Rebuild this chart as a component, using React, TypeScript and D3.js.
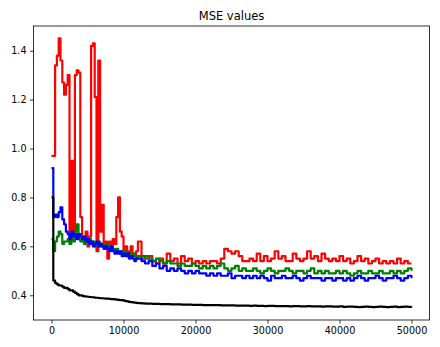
import React, { useEffect, useRef } from 'react';
import * as d3 from 'd3';

// iterations: every 250 steps early on, every 500 afterwards
const iterations: number[] = d3.range(0, 12000, 250).concat(d3.range(12000, 50001, 500));

const redValues = [
  0.97, 0.97, 1.34, 1.38, 1.45, 1.36, 1.27, 1.22, 1.26, 1.30,
  0.62, 0.95, 0.66, 1.30, 1.32, 1.31, 0.72, 0.64, 0.62, 0.66,
  0.60, 0.64, 1.42, 1.43, 1.21, 0.58, 1.36, 0.66, 0.77, 0.60,
  0.62, 0.55, 0.62, 0.60, 0.63, 0.61, 0.72, 0.80, 0.66, 0.64,
  0.58, 0.60, 0.58, 0.57, 0.60, 0.57, 0.56, 0.58,
  0.62, 0.56, 0.55, 0.56, 0.54, 0.53, 0.55, 0.53, 0.57, 0.54,
  0.55, 0.53, 0.56, 0.54, 0.55, 0.53, 0.54, 0.53, 0.54, 0.53,
  0.54, 0.54, 0.53, 0.55, 0.59, 0.58, 0.57, 0.58, 0.56, 0.54,
  0.54, 0.55, 0.54, 0.57, 0.54, 0.56, 0.54, 0.55, 0.58, 0.55,
  0.56, 0.54, 0.54, 0.57, 0.55, 0.54, 0.55, 0.58, 0.55, 0.56,
  0.54, 0.57, 0.55, 0.54, 0.55, 0.54, 0.56, 0.54, 0.55, 0.53,
  0.54, 0.56, 0.54, 0.55, 0.53, 0.54, 0.55, 0.53, 0.54, 0.53,
  0.54, 0.53, 0.55, 0.53, 0.54, 0.53, 0.53,
];

const greenValues = [
  0.63, 0.58, 0.62, 0.64, 0.66, 0.65, 0.61, 0.62, 0.62, 0.63,
  0.61, 0.63, 0.62, 0.66, 0.69, 0.63, 0.62, 0.63, 0.61, 0.62,
  0.62, 0.63, 0.61, 0.62, 0.60, 0.61, 0.62, 0.60, 0.61, 0.59,
  0.60, 0.61, 0.59, 0.60, 0.59, 0.58, 0.59, 0.58, 0.57, 0.58,
  0.57, 0.58, 0.56, 0.57, 0.56, 0.57, 0.56, 0.55,
  0.56, 0.55, 0.56, 0.55, 0.54, 0.55, 0.54, 0.53, 0.54, 0.53,
  0.53, 0.52, 0.53, 0.52, 0.52, 0.53, 0.52, 0.51, 0.52, 0.51,
  0.52, 0.51, 0.52, 0.53, 0.51, 0.50, 0.51, 0.52, 0.50, 0.51,
  0.50, 0.50, 0.51, 0.50, 0.49, 0.50, 0.51, 0.50, 0.49, 0.50,
  0.50, 0.51, 0.50, 0.49, 0.50, 0.50, 0.49, 0.50, 0.51, 0.49,
  0.50, 0.49, 0.50, 0.49, 0.49, 0.50, 0.49, 0.50, 0.49, 0.48,
  0.49, 0.50, 0.49, 0.49, 0.50, 0.49, 0.49, 0.50, 0.49, 0.49,
  0.50, 0.49, 0.50, 0.49, 0.50, 0.51, 0.50,
];

const blueValues = [
  0.92, 0.72, 0.73, 0.72, 0.74, 0.76, 0.71, 0.69, 0.66, 0.65,
  0.63, 0.66, 0.64, 0.65, 0.63, 0.65, 0.64, 0.63, 0.64, 0.62,
  0.63, 0.61, 0.62, 0.60, 0.61, 0.62, 0.60, 0.61, 0.60, 0.59,
  0.60, 0.59, 0.58, 0.60, 0.58, 0.57, 0.58, 0.57, 0.58, 0.56,
  0.57, 0.56, 0.57, 0.55, 0.56, 0.55, 0.54, 0.55,
  0.55, 0.54, 0.53, 0.54, 0.52, 0.53, 0.51, 0.52, 0.50, 0.51,
  0.50, 0.51, 0.50, 0.49, 0.50, 0.49, 0.50, 0.49, 0.49, 0.48,
  0.49, 0.48, 0.49, 0.48, 0.48, 0.49, 0.47, 0.48, 0.48, 0.47,
  0.48, 0.47, 0.48, 0.47, 0.48, 0.47, 0.46, 0.48, 0.47, 0.47,
  0.48, 0.47, 0.47, 0.48, 0.47, 0.46, 0.47, 0.48, 0.47, 0.47,
  0.47, 0.46, 0.47, 0.47, 0.46, 0.47, 0.47, 0.46, 0.47, 0.46,
  0.47, 0.48, 0.47, 0.46, 0.47, 0.47, 0.48, 0.47, 0.46, 0.47,
  0.47, 0.48, 0.47, 0.46, 0.47, 0.48, 0.47,
];

const blackValues = [
  0.80, 0.46, 0.45, 0.445, 0.44, 0.44, 0.435, 0.43, 0.43, 0.425,
  0.42, 0.42, 0.415, 0.41, 0.405, 0.40, 0.40, 0.398, 0.396, 0.395,
  0.394, 0.393, 0.392, 0.392, 0.39, 0.39, 0.389, 0.388, 0.388, 0.387,
  0.386, 0.386, 0.385, 0.384, 0.384, 0.383, 0.382, 0.381, 0.38, 0.38,
  0.378, 0.376, 0.375, 0.373, 0.372, 0.371, 0.37, 0.369,
  0.368, 0.367, 0.366, 0.366, 0.365, 0.365, 0.364, 0.364, 0.364, 0.363,
  0.363, 0.363, 0.362, 0.362, 0.362, 0.361, 0.361, 0.361, 0.36, 0.36,
  0.36, 0.36, 0.36, 0.359, 0.359, 0.359, 0.359, 0.358, 0.358, 0.358,
  0.358, 0.357, 0.358, 0.357, 0.357, 0.356, 0.357, 0.357, 0.356, 0.356,
  0.356, 0.356, 0.355, 0.356, 0.356, 0.355, 0.355, 0.356, 0.355, 0.355,
  0.355, 0.354, 0.355, 0.355, 0.354, 0.354, 0.355, 0.353, 0.354, 0.354,
  0.353, 0.352, 0.353, 0.354, 0.353, 0.352, 0.353, 0.354, 0.353, 0.352,
  0.353, 0.354, 0.352, 0.353, 0.354, 0.353, 0.354,
];

const xTicks = [0, 10000, 20000, 30000, 40000, 50000];
const yTicks = [0.4, 0.6, 0.8, 1.0, 1.2, 1.4];

const series = [
  { name: 'red', color: '#ff0000', values: redValues },
  { name: 'green', color: '#008000', values: greenValues },
  { name: 'blue', color: '#0000ff', values: blueValues },
  { name: 'black', color: '#000000', values: blackValues },
];

const App = () => {
  const svgRef = useRef<SVGSVGElement>(null);

  useEffect(() => {
    if (!svgRef.current) return;
    const root = d3.select(svgRef.current);
    root.selectAll('*').remove();

    const width = 440;
    const height = 347;
    const margin = { top: 26, right: 10.5, bottom: 27, left: 33.5 };
    const innerWidth = width - margin.left - margin.right;
    const innerHeight = height - margin.top - margin.bottom;
    const font = 'DejaVu Sans, sans-serif';

    const svg = root.append('g').attr('transform', `translate(${margin.left}, ${margin.top})`);

    const xScale = d3.scaleLinear().domain([-2500, 52500]).range([0, innerWidth]);
    const yScale = d3.scaleLinear().domain([0.299, 1.501]).range([innerHeight, 0]);

    const line = d3.line<[number, number]>()
      .x(d => xScale(d[0]))
      .y(d => yScale(d[1]))
      .curve(d3.curveStepAfter);

    // clip to plot area
    root.append('defs').append('clipPath').attr('id', 'plot-clip')
      .append('rect').attr('width', innerWidth).attr('height', innerHeight);

    const plot = svg.append('g').attr('clip-path', 'url(#plot-clip)');
    series.forEach(s => {
      const pts = s.values.map((v, i) => [iterations[i], v] as [number, number])
        .filter(p => p[0] !== undefined);
      plot.append('path')
        .datum(pts)
        .attr('fill', 'none')
        .attr('stroke', s.color)
        .attr('stroke-width', 2.2)
        .attr('stroke-linejoin', 'round')
        .attr('d', line);
    });

    // axes
    const xAxis = svg.append('g')
      .attr('transform', `translate(0, ${innerHeight})`)
      .call(d3.axisBottom(xScale).tickValues(xTicks).tickSize(3.5).tickPadding(3.5).tickFormat(d3.format('d')));
    const yAxis = svg.append('g')
      .call(d3.axisLeft(yScale).tickValues(yTicks).tickSize(3.5).tickPadding(3.5).tickFormat(d3.format('.1f')));

    [xAxis, yAxis].forEach(ax => {
      ax.select('.domain').remove();
      ax.selectAll('line').attr('stroke', '#000').attr('stroke-width', 0.8);
      ax.selectAll('text').attr('fill', '#000').style('font-family', font).style('font-size', '9.6px');
    });

    // frame
    svg.append('rect')
      .attr('width', innerWidth)
      .attr('height', innerHeight)
      .attr('fill', 'none')
      .attr('stroke', '#000')
      .attr('stroke-width', 0.8);

    // title
    svg.append('text')
      .attr('x', innerWidth / 2)
      .attr('y', -6)
      .attr('text-anchor', 'middle')
      .style('font-family', font)
      .style('font-size', '11.5px')
      .text('MSE values');
  }, []);

  return (
    <svg
      ref={svgRef}
      width={440}
      height={347}
      style={{ position: 'absolute', left: 0, top: 0, background: '#fff' }}
    />
  );
};

export default App;
